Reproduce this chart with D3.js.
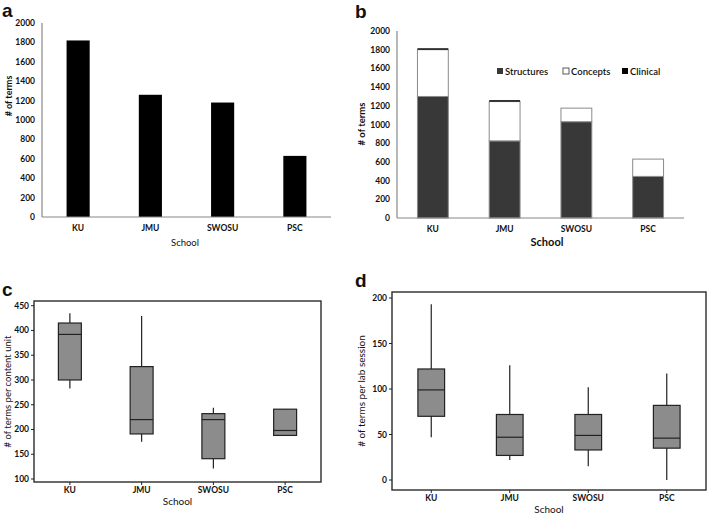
<!DOCTYPE html>
<html>
<head>
<meta charset="utf-8">
<script src="https://cdn.jsdelivr.net/npm/d3@7"></script>
<style>
  body { margin: 0; background: #fff; }
  text { font-family: Lato, "Open Sans", sans-serif; fill: #111; }
  .tick-label { font-size: 8.5px; font-weight: bold; }
  .panel-letter { font-family: "Liberation Sans", Arial, sans-serif; font-size: 19px; font-weight: bold; }
</style>
</head>
<body>
<svg id="chart" width="708" height="517"></svg>
<script>
var schools = ['KU', 'JMU', 'SWOSU', 'PSC'];

// a: total terms per school
var totalTerms = [1820, 1260, 1180, 630];

// b: stacked by kind of term
var seriesNames = ['Structures', 'Concepts', 'Clinical'];
var structures = [1300, 825, 1030, 445];
var concepts = [500, 420, 145, 185];
var clinical = [15, 15, 0, 0];

// c: terms per content unit (min, q1, median, q3, max)
var unitMin = [283, 175, 121, 188];
var unitQ1 = [300, 191, 141, 188];
var unitMed = [392, 220, 220, 198];
var unitQ3 = [415, 327, 232, 241];
var unitMax = [435, 429, 244, 241];

// d: terms per lab session
var labMin = [47, 22, 15, 0];
var labQ1 = [70, 27, 33, 35];
var labMed = [99, 47, 49, 46];
var labQ3 = [122, 72, 72, 82];
var labMax = [193, 126, 102, 117];

var barTicks = [0, 200, 400, 600, 800, 1000, 1200, 1400, 1600, 1800, 2000];
var unitTicks = [100, 150, 200, 250, 300, 350, 400, 450];
var labTicks = [0, 50, 100, 150, 200];

var svg = d3.select('#chart');

var drawBarAxes = function (g, x, y, ticks) {
    var r = x.range();
    g.append('line')
        .attr('x1', r[0]).attr('x2', r[0])
        .attr('y1', y.range()[1]).attr('y2', y.range()[0])
        .attr('stroke', '#888').attr('stroke-width', 1.2);
    g.append('line')
        .attr('x1', r[0]).attr('x2', r[1])
        .attr('y1', y(0)).attr('y2', y(0))
        .attr('stroke', '#888').attr('stroke-width', 1.2);

    g.selectAll('.ytick').data(ticks).enter().append('text')
        .attr('class', 'tick-label')
        .attr('x', r[0] - 7)
        .attr('y', function (d) { return y(d) + 3; })
        .attr('text-anchor', 'end')
        .text(function (d) { return d; });

    g.selectAll('.xtick').data(schools).enter().append('text')
        .attr('class', 'tick-label')
        .attr('x', function (d) { return x(d) + x.bandwidth() / 2; })
        .attr('y', y(0) + 14)
        .attr('text-anchor', 'middle')
        .text(function (d) { return d; });
};

// ---- panel a
(function () {
    var g = svg.append('g');
    var x = d3.scaleBand().domain(schools).range([42, 331]).paddingInner(0.68).paddingOuter(0.34);
    var y = d3.scaleLinear().domain([0, 2000]).range([217, 23]);

    g.selectAll('.bar').data(schools).enter().append('rect')
        .attr('x', function (d) { return x(d); })
        .attr('width', x.bandwidth())
        .attr('y', function (d, i) { return y(totalTerms[i]); })
        .attr('height', function (d, i) { return y(0) - y(totalTerms[i]); })
        .attr('fill', '#000');

    drawBarAxes(g, x, y, barTicks);

    g.append('text').attr('class', 'panel-letter').attr('x', 2).attr('y', 17).text('a');
    g.append('text')
        .attr('transform', 'translate(12,96) rotate(-90)')
        .attr('text-anchor', 'middle')
        .style('font-size', '9px').style('font-weight', 'bold')
        .text('# of terms');
    g.append('text')
        .attr('x', 185).attr('y', 246)
        .attr('text-anchor', 'middle')
        .style('font-size', '9.5px')
        .text('School');
})();

// ---- panel b
(function () {
    var g = svg.append('g');
    var x = d3.scaleBand().domain(schools).range([397, 684]).paddingInner(0.57).paddingOuter(0.285);
    var y = d3.scaleLinear().domain([0, 2000]).range([218, 31]);

    var rows = schools.map(function (s, i) {
        return { school: s, Structures: structures[i], Concepts: concepts[i], Clinical: clinical[i] };
    });
    var stacked = d3.stack().keys(seriesNames)(rows);
    var fills = { Structures: '#383838', Concepts: '#fff', Clinical: '#000' };

    g.selectAll('.layer').data(stacked).enter().append('g')
        .attr('fill', function (d) { return fills[d.key]; })
        .attr('stroke', function (d) { return d.key === 'Clinical' ? 'none' : '#8a8a8a'; })
        .attr('stroke-width', 1)
        .selectAll('rect')
        .data(function (d) { return d.filter(function (p) { return p[1] > p[0]; }); })
        .enter().append('rect')
        .attr('x', function (d) { return x(d.data.school); })
        .attr('width', x.bandwidth())
        .attr('y', function (d) { return y(d[1]); })
        .attr('height', function (d) { return y(d[0]) - y(d[1]); });

    drawBarAxes(g, x, y, barTicks);

    var legendX = [497, 563, 622];
    var legend = g.selectAll('.legend').data(seriesNames).enter().append('g')
        .attr('transform', function (d, i) { return 'translate(' + legendX[i] + ',72)'; });
    legend.append('rect')
        .attr('x', 0).attr('y', -4)
        .attr('width', 6).attr('height', 6)
        .attr('fill', function (d) { return fills[d]; })
        .attr('stroke', function (d) { return d === 'Concepts' ? '#333' : 'none'; })
        .attr('stroke-width', 0.8);
    legend.append('text')
        .attr('x', 8).attr('y', 3)
        .style('font-size', '9.5px').style('font-weight', '600')
        .text(function (d) { return d; });

    g.append('text').attr('class', 'panel-letter').attr('x', 355).attr('y', 18).text('b');
    g.append('text')
        .attr('transform', 'translate(365,124) rotate(-90)')
        .attr('text-anchor', 'middle')
        .style('font-size', '9.5px').style('font-weight', 'bold')
        .text('# of terms');
    g.append('text')
        .attr('x', 547).attr('y', 246)
        .attr('text-anchor', 'middle')
        .style('font-size', '11px').style('font-weight', 'bold')
        .text('School');
})();

var drawBoxPanel = function (opt) {
    var g = svg.append('g');
    var x = d3.scaleBand().domain(schools).range([opt.left, opt.right]).paddingInner(opt.pad).paddingOuter(opt.pad / 2);
    var y = d3.scaleLinear().domain(opt.domain).range(opt.yRange);

    g.append('rect')
        .attr('x', opt.left).attr('y', opt.top)
        .attr('width', opt.right - opt.left).attr('height', opt.bottom - opt.top)
        .attr('fill', 'none').attr('stroke', '#2b2b2b').attr('stroke-width', 1.4);

    var boxes = g.selectAll('.box').data(schools).enter().append('g');
    boxes.append('line')
        .attr('x1', function (d) { return x(d) + x.bandwidth() / 2; })
        .attr('x2', function (d) { return x(d) + x.bandwidth() / 2; })
        .attr('y1', function (d, i) { return y(opt.min[i]); })
        .attr('y2', function (d, i) { return y(opt.max[i]); })
        .attr('stroke', '#222').attr('stroke-width', 1.2);
    boxes.append('rect')
        .attr('x', function (d) { return x(d); })
        .attr('width', x.bandwidth())
        .attr('y', function (d, i) { return y(opt.q3[i]); })
        .attr('height', function (d, i) { return y(opt.q1[i]) - y(opt.q3[i]); })
        .attr('fill', '#8c8c8c').attr('stroke', '#222').attr('stroke-width', 1.2);
    boxes.append('line')
        .attr('x1', function (d) { return x(d); })
        .attr('x2', function (d) { return x(d) + x.bandwidth(); })
        .attr('y1', function (d, i) { return y(opt.med[i]); })
        .attr('y2', function (d, i) { return y(opt.med[i]); })
        .attr('stroke', '#222').attr('stroke-width', 1.2);

    // y ticks
    g.selectAll('.ytick').data(opt.ticks).enter().append('line')
        .attr('x1', opt.left - 3).attr('x2', opt.left)
        .attr('y1', function (d) { return y(d); }).attr('y2', function (d) { return y(d); })
        .attr('stroke', '#222');
    g.selectAll('.ylab').data(opt.ticks).enter().append('text')
        .attr('class', 'tick-label')
        .attr('x', opt.left - 5)
        .attr('y', function (d) { return y(d) + 3; })
        .attr('text-anchor', 'end')
        .text(function (d) { return d; });

    // x ticks
    g.selectAll('.xtick').data(schools).enter().append('line')
        .attr('x1', function (d) { return x(d) + x.bandwidth() / 2; })
        .attr('x2', function (d) { return x(d) + x.bandwidth() / 2; })
        .attr('y1', opt.bottom).attr('y2', opt.bottom + 3)
        .attr('stroke', '#222');
    g.selectAll('.xlab').data(schools).enter().append('text')
        .attr('class', 'tick-label')
        .attr('x', function (d) { return x(d) + x.bandwidth() / 2; })
        .attr('y', opt.bottom + 11)
        .attr('text-anchor', 'middle')
        .text(function (d) { return d; });

    g.append('text').attr('class', 'panel-letter').attr('x', opt.letterX).attr('y', opt.letterY).text(opt.letter);
    g.append('text')
        .attr('transform', 'translate(' + opt.yLabelX + ',' + (opt.top + opt.bottom) / 2 + ') rotate(-90)')
        .attr('text-anchor', 'middle')
        .style('font-size', opt.yLabelSize)
        .text(opt.yLabel);
    g.append('text')
        .attr('x', (opt.left + opt.right) / 2).attr('y', opt.bottom + 23)
        .attr('text-anchor', 'middle')
        .style('font-size', '10px')
        .text('School');
};

// ---- panel c
drawBoxPanel({
    left: 34, right: 321, top: 301, bottom: 482, pad: 0.68,
    domain: [100, 450], yRange: [479, 305.7], ticks: unitTicks,
    min: unitMin, q1: unitQ1, med: unitMed, q3: unitQ3, max: unitMax,
    letter: 'c', letterX: 2, letterY: 296,
    yLabel: '# of terms per content unit', yLabelX: 11, yLabelSize: '9.5px'
});

// ---- panel d
drawBoxPanel({
    left: 392, right: 706, top: 292, bottom: 490, pad: 0.66,
    domain: [0, 200], yRange: [480, 298], ticks: labTicks,
    min: labMin, q1: labQ1, med: labMed, q3: labQ3, max: labMax,
    letter: 'd', letterX: 355, letterY: 287,
    yLabel: '# of terms per lab session', yLabelX: 365, yLabelSize: '10px'
});
</script>
</body>
</html>
